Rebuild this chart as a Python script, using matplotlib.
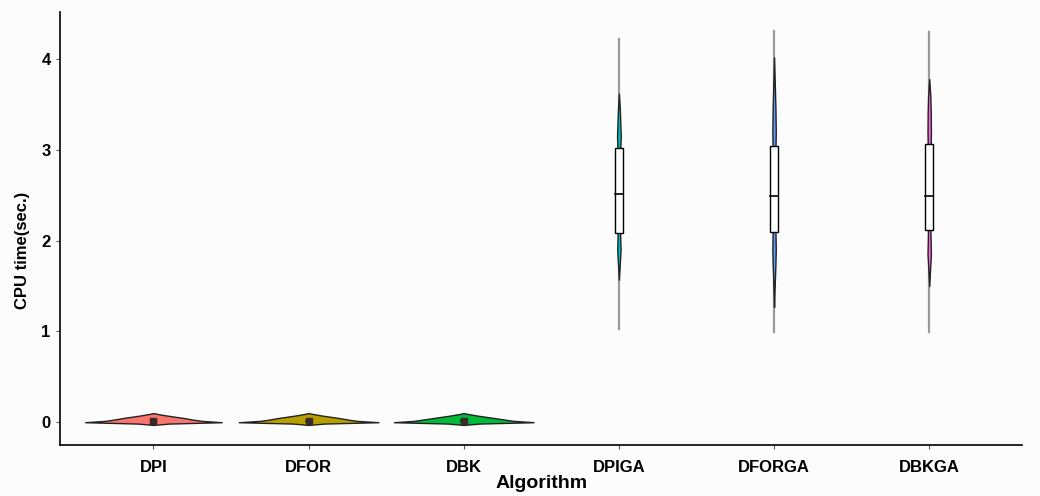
import matplotlib.pyplot as plt
import numpy as np

plt.rcParams["font.family"] = ["Liberation Sans", "DejaVu Sans"]

algorithms = ["DPI", "DFOR", "DBK", "DPIGA", "DFORGA", "DBKGA"]
colors = ["#F8766D", "#B79F00", "#00BA38", "#00BFC4", "#619CFF", "#F564E3"]

# box stats: whisker low, q1, median, q3, whisker high
whisk_lo = [-0.02, -0.02, -0.02, 1.03, 0.99, 0.99]
q1 = [0.0, 0.0, 0.0, 2.08, 2.09, 2.12]
median = [0.015, 0.015, 0.015, 2.51, 2.49, 2.49]
q3 = [0.03, 0.03, 0.03, 3.02, 3.04, 3.07]
whisk_hi = [0.09, 0.09, 0.09, 4.22, 4.31, 4.30]

# violin outlines: y levels and half widths (x units)
vio_y = [
    [-0.03, -0.015, 0.0, 0.015, 0.03, 0.045, 0.06, 0.075, 0.09, 0.10],
    [-0.03, -0.015, 0.0, 0.015, 0.03, 0.045, 0.06, 0.075, 0.09, 0.10],
    [-0.03, -0.015, 0.0, 0.015, 0.03, 0.045, 0.06, 0.075, 0.09, 0.10],
    [1.57, 1.75, 1.9, 2.0, 2.2, 2.5, 2.8, 3.0, 3.15, 3.3, 3.45, 3.62],
    [1.27, 1.5, 1.75, 1.9, 2.2, 2.5, 2.8, 3.0, 3.2, 3.45, 3.7, 4.02],
    [1.50, 1.7, 1.85, 2.0, 2.2, 2.5, 2.8, 3.0, 3.2, 3.4, 3.6, 3.78],
]
vio_w = [
    [0.0, 0.10, 0.44, 0.31, 0.25, 0.20, 0.14, 0.08, 0.03, 0.0],
    [0.0, 0.10, 0.45, 0.31, 0.25, 0.20, 0.14, 0.08, 0.03, 0.0],
    [0.0, 0.10, 0.45, 0.32, 0.26, 0.20, 0.14, 0.08, 0.03, 0.0],
    [0.0, 0.006, 0.011, 0.009, 0.007, 0.006, 0.007, 0.009, 0.012, 0.009, 0.006, 0.0],
    [0.0, 0.004, 0.009, 0.011, 0.008, 0.006, 0.007, 0.009, 0.011, 0.009, 0.005, 0.0],
    [0.0, 0.006, 0.011, 0.009, 0.007, 0.006, 0.007, 0.009, 0.011, 0.010, 0.007, 0.0],
]

fig = plt.figure(figsize=(10.4, 4.96), dpi=100, facecolor="#fcfcfc")
ax = fig.add_axes([0.058, 0.103, 0.925, 0.873])
ax.set_facecolor("#fcfcfc")

box_w = 0.05
for i, name in enumerate(algorithms):
    x = i + 1
    # gray whisker line behind everything
    ax.plot([x, x], [whisk_lo[i], whisk_hi[i]], color="#9a9a9a", lw=1.6, zorder=1)
    y = np.array(vio_y[i])
    w = np.array(vio_w[i])
    ax.fill_betweenx(y, x - w, x + w, facecolor=colors[i], edgecolor="#222222",
                     lw=1.0, zorder=2)
    bw = box_w if i >= 3 else 0.03
    ax.add_patch(plt.Rectangle((x - bw / 2, q1[i]), bw, q3[i] - q1[i],
                               facecolor="white", edgecolor="black", lw=1.0, zorder=3))
    ax.plot([x - bw / 2, x + bw / 2], [median[i], median[i]], color="black", lw=1.2, zorder=4)
    if i < 3:
        ax.plot(x, median[i], marker="s", ms=4, color="#3a2a2a", zorder=5)

ax.set_xlim(0.4, 6.6)
ax.set_ylim(-0.25, 4.52)
ax.set_xticks(range(1, 7))
ax.set_xticklabels(algorithms, fontsize=12, fontweight="bold")
ax.set_yticks([0, 1, 2, 3, 4])
ax.set_yticklabels(["0", "1", "2", "3", "4"], fontsize=12, fontweight="bold")
ax.tick_params(length=3, color="#555555", pad=4)
ax.tick_params(axis="x", pad=8)
for s in ["top", "right"]:
    ax.spines[s].set_visible(False)
for s in ["left", "bottom"]:
    ax.spines[s].set_linewidth(1.2)
ax.set_xlabel("Algorithm", fontsize=14, fontweight="bold", labelpad=0)
ax.set_ylabel("CPU time(sec.)", fontsize=12, fontweight="bold")
ax.yaxis.set_label_coords(-0.032, 0.45)

plt.savefig("out.png", dpi=100, facecolor=fig.get_facecolor())
